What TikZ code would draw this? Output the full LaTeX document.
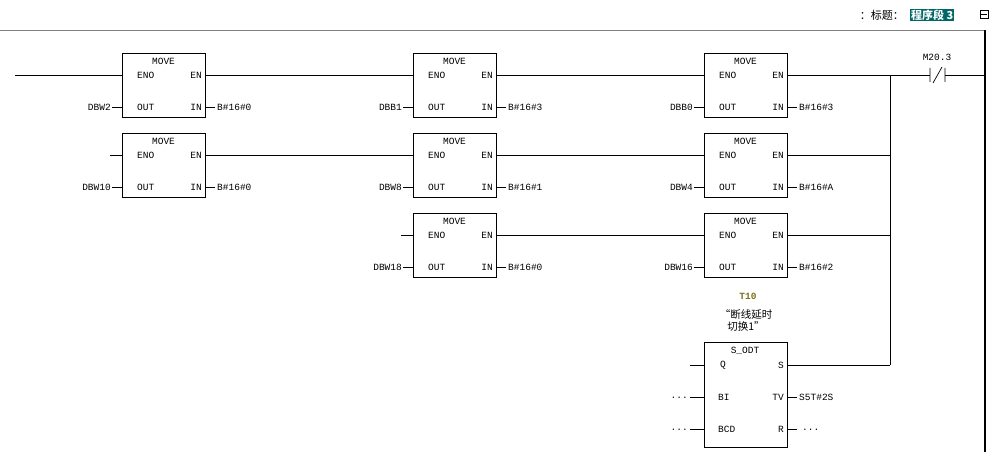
\documentclass[tikz,border=0pt]{standalone}
\usepackage{fontspec}
\setmainfont{Liberation Mono}
\newfontfamily\cjk{Noto Sans CJK SC}
\begin{document}
\begin{tikzpicture}[x=1pt,y=-1pt,
  box/.style={draw,line width=0.8pt},
  w/.style={line width=0.7pt},
  t/.style={inner sep=0pt,font=\fontsize{9.5}{10}\selectfont}]
\useasboundingbox (0,0) rectangle (996,452);
\draw[gray,line width=0.8pt] (0,30) -- (985,30);
\draw[line width=1.2pt] (985,30) -- (985,452);
\node[t,anchor=east,font=\cjk\fontsize{11}{12}\selectfont] (ttl) at (904,15) {：标题：};
\node[t,anchor=west,fill=teal!80!black,text=white,font=\cjk\bfseries\fontsize{11}{12}\selectfont,inner sep=1pt] (seg) at (910,15) {程序段 3};
\node[draw,minimum size=8pt,inner sep=0pt] (sq) at (984,14) {};
\draw (981,14) -- (987,14);
% contact
\node[t] (m) at (937,57) {M20.3};
\coordinate (bus) at (890,75);
\coordinate (r1) at (985,75);
\draw[w] (r1) -- (945,75) (930,75) -- (bus);
\draw[w] (945,68) -- (945,82) (930,68) -- (930,82) (933,83) -- (942,67);
\draw[w] (890,75) -- (890,365);
% MOVE blocks
\foreach \bx/\by/\nm in {122/53/a1,413/53/a2,704/53/a3,122/133/b1,413/133/b2,704/133/b3,413/213/c2,704/213/c3}{
  \draw[box] (\bx,\by) rectangle ++(83,64);
  \node[t] at (\bx+41.5,\by+8) {MOVE};
  \node[t,anchor=east] at (\bx+80,\by+22) {EN};
  \node[t,anchor=west] at (\bx+15,\by+22) {ENO};
  \node[t,anchor=east] at (\bx+80,\by+54) {IN};
  \node[t,anchor=west] at (\bx+15,\by+54) {OUT};
}
\draw[w] (15,75) -- (122,75) (205,75) -- (413,75) (496,75) -- (704,75) (787,75) -- (890,75);
\draw[w] (110,155) -- (122,155) (205,155) -- (413,155) (496,155) -- (704,155) (787,155) -- (890,155);
\draw[w] (401,235) -- (413,235) (496,235) -- (704,235) (787,235) -- (890,235);
% IN/OUT labels
\foreach \bx/\y/\inl/\outl in {122/107/B\#16\#0/DBW2,413/107/B\#16\#3/DBB1,704/107/B\#16\#3/DBB0,
  122/187/B\#16\#0/DBW10,413/187/B\#16\#1/DBW8,704/187/B\#16\#A/DBW4,413/267/B\#16\#0/DBW18,704/267/B\#16\#2/DBW16}{
  \draw[w] (\bx+83,\y) -- (\bx+93,\y) (\bx-10,\y) -- (\bx,\y);
  \node[t,anchor=west] at (\bx+95,\y) {\inl};
  \node[t,anchor=east] at (\bx-11,\y) {\outl};
}
% timer
\node[t,text=olive!80!black,font=\bfseries\fontsize{9.5}{10}\selectfont] (tn) at (748,296) {T10};
\node[t,align=center,font=\cjk\fontsize{10.5}{12}\selectfont] (tc) at (746,320) {“断线延时\\切换1”};
\draw[box] (704,342) rectangle (787,447);
\node[t] at (745,351) {S\_ODT};
\node[t,anchor=east] at (784,365) {S};
\node[t,anchor=west] at (720,365) {Q};
\node[t,anchor=east] at (784,397) {TV};
\node[t,anchor=west] at (718,397) {BI};
\node[t,anchor=east] at (784,429) {R};
\node[t,anchor=west] at (718,429) {BCD};
\draw[w] (787,365) -- (890,365);
\draw[w] (690,365) -- (704,365) (690,397) -- (704,397) (690,429) -- (704,429);
\draw[w] (787,397) -- (797,397) (787,429) -- (797,429);
\node[t,anchor=west] at (799,397) {S5T\#2S};
\node[t,anchor=west] at (802,430) {...};
\node[t,anchor=east] at (688,398) {...};
\node[t,anchor=east] at (688,430) {...};
\end{tikzpicture}
\end{document}
